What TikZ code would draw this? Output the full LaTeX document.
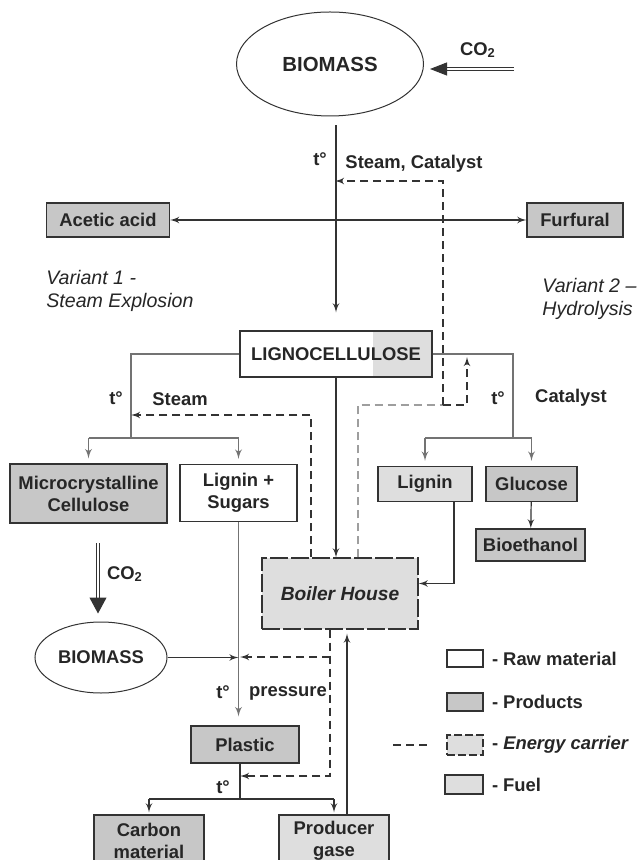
\documentclass[tikz,border=0pt]{standalone}
\usepackage{fontspec}
\setmainfont{Liberation Sans}
\usetikzlibrary{shapes, arrows, arrows.meta, positioning}
\definecolor{prodgray}{gray}{0.78}
\definecolor{fuelgray}{gray}{0.87}
\definecolor{darkline}{gray}{0.2}
\definecolor{greyline}{gray}{0.45}
\definecolor{lightdash}{gray}{0.62}
\tikzstyle{raw}     = [rectangle, draw=darkline, line width=0.6pt, align=center, fill=white, inner sep=1pt]
\tikzstyle{product} = [raw, fill=prodgray]
\tikzstyle{fuel}    = [raw, fill=fuelgray]
\tikzstyle{energy}  = [fuel, dash pattern=on 9pt off 1.5pt]
\tikzstyle{source}  = [ellipse, draw=darkline, line width=0.5pt, inner sep=0pt]
\tikzstyle{txt}     = [inner sep=1pt]
\tikzstyle{flow}    = [draw=darkline, line width=0.6pt, -latex']
\tikzstyle{branch}  = [draw=greyline, line width=0.65pt]
\tikzstyle{steam}   = [draw=darkline, line width=0.6pt, dash pattern=on 4pt off 2.5pt, -latex']
\tikzstyle{co2}     = [draw=darkline, line width=0.5pt, double distance=1.4pt]

\begin{document}
\begin{tikzpicture}[x=0.5pt, y=-0.5pt, text=black!85,
    font=\fontsize{9.2}{11}\selectfont\bfseries]
    \useasboundingbox (0,0) rectangle (640,860);

    % Pretreatment of the biomass
    \node[source, minimum width=93.5pt, minimum height=52pt, font=\fontsize{10.2}{12}\selectfont\bfseries] (biomass) at (330,64) {BIOMASS};
    \coordinate (co2in) at (514,69);
    \draw[co2, -{Triangle[length=8.5pt, width=6.5pt]}, shorten >=3pt] (co2in) -- (co2in -| biomass.east);
    \node[txt] (co2a) at (478,50) {CO\textsubscript{2}};
    \node[product, minimum width=61.5pt, minimum height=17pt] (acetic) at (108,220) {Acetic acid};
    \node[product, minimum width=48pt, minimum height=17pt] (furfural) at (575,220) {Furfural};
    \node[raw, minimum width=96pt, minimum height=23pt,
        path picture={\fill[fuelgray] ([xshift=-29.5pt]path picture bounding box.north east) rectangle (path picture bounding box.south east);}] (ligno) at (336,354) {LIGNOCELLULOSE};
    \draw[flow, shorten <=4.5pt, shorten >=9pt] (ligno.north |- biomass.south) -- (ligno.north);
    \draw[flow, latex'-latex'] (acetic) -- (furfural);
    \node[txt] (t0) at (320,159) {t°};
    \node[txt] (stcat) at (414,164) {Steam, Catalyst};

    \node[txt, font=\fontsize{9.8}{11.5}\selectfont\itshape, align=left, anchor=north west] (var1) at (44,268) {Variant 1 -\\Steam Explosion};
    \node[txt, font=\fontsize{9.8}{11.5}\selectfont\itshape, align=left, anchor=north west] (var2) at (540,276) {Variant 2 –\\Hydrolysis};

    % Variant 1
    \node[product, minimum width=78.5pt, minimum height=29.5pt] (micro) at (88.5,493.5) {Microcrystalline\\Cellulose};
    \node[raw, minimum width=58.5pt, minimum height=28.5pt] (ligsug) at (238.5,493) {Lignin +\\Sugars};
    \coordinate (lsplit) at (131,438);
    \draw[branch] (ligno.west) -| (lsplit) (micro.north |- lsplit) -- (ligsug.north |- lsplit);
    \foreach \n in {micro, ligsug}
        \draw[branch, -latex', shorten >=2.5pt] (\n.north |- lsplit) -- (\n.north);
    \node[txt] (t1) at (116,398) {t°};
    \node[txt] (steam1) at (180,399) {Steam};

    % Variant 2
    \node[fuel, minimum width=47pt, minimum height=17.5pt] (lignin) at (425,484) {Lignin};
    \node[product, minimum width=45.5pt, minimum height=17.5pt] (glucose) at (531.5,484) {Glucose};
    \node[product, minimum width=54.5pt, minimum height=16pt] (bioeth) at (530.5,545) {Bioethanol};
    \coordinate (rsplit) at (513,438);
    \draw[branch] (ligno.east) -| (rsplit) (lignin.north |- rsplit) -- (glucose.north |- rsplit);
    \foreach \n in {lignin, glucose}
        \draw[branch, -latex', shorten >=2.5pt] (\n.north |- rsplit) -- (\n.north);
    \draw[flow] (glucose) -- (bioeth);
    \node[txt] (t2) at (498,398) {t°};
    \node[txt] (cat) at (571,398) {Catalyst};

    % Boiler house and energy
    \node[energy, minimum width=78pt, minimum height=35.5pt, font=\fontsize{9.6}{11}\selectfont\bfseries\itshape] (boiler) at (340,593.5) {Boiler House};
    \draw[flow] (ligno.south) -- (ligno.south |- boiler.north);
    \draw[flow] ([xshift=14.5pt]lignin.south) |- ([yshift=5pt]boiler.east);
    \coordinate (steamin) at (131,415);
    \draw[steam] ([xshift=-14.5pt]boiler.north) |- (steamin);
    \coordinate (hot) at (443,405);
    \coordinate (catin) at (335,181);
    \coordinate (hydin) at (467,357);
    \draw[steam, draw=lightdash, -] ([xshift=9pt]boiler.north) |- (hot);
    \draw[steam] (hot) |- (catin);
    \draw[steam] (hot) -| (hydin);

    % Plastic line
    \node[source, minimum width=66pt, minimum height=35.5pt] (biomass2) at (101,657.5) {BIOMASS};
    \coordinate (co2b) at (98,543);
    \draw[co2, -{Triangle[length=8pt, width=8.5pt]}, shorten >=4pt] (co2b) -- (co2b |- biomass2.north);
    \node[txt] (co2c) at (125,574) {CO\textsubscript{2}};
    \node[product, minimum width=54pt, minimum height=18.5pt] (plastic) at (245,744.5) {Plastic};
    \draw[branch, -latex', shorten >=4.5pt] (ligsug.south) -- (ligsug.south |- plastic.north);
    \draw[flow] (biomass2) -- (ligsug.south |- biomass2);
    \coordinate (feedp) at (240,657);
    \coordinate (feedc) at (240,776);
    \draw[steam] ([xshift=-5pt]boiler.south) |- (feedc);
    \draw[steam] ([xshift=-5pt]boiler.south |- feedp) -- (feedp);
    \node[txt] (t3) at (223,692) {t°};
    \node[txt] (press) at (288,693) {pressure};

    \node[product, minimum width=55pt, minimum height=25.5pt] (carbon) at (149,840.5) {Carbon\\material};
    \node[fuel, minimum width=55pt, minimum height=25.5pt] (producer) at (334,840.5) {Producer\\gase};
    \coordinate (psplit) at (240,799);
    \draw[flow, -] (plastic.south -| psplit) -- (psplit) (carbon.north |- psplit) -- (producer.north |- psplit);
    \foreach \n in {carbon, producer}
        \draw[flow, shorten >=1pt] (\n.north |- psplit) -- (\n.north);
    \node[txt] (t4) at (223,787) {t°};
    \draw[flow, shorten >=2pt] ([xshift=6.5pt]producer.north) -- ([xshift=6.5pt]producer.north |- boiler.south);

    % Legend
    \node[raw, minimum width=18pt, minimum height=8.5pt] (legraw) at (465,658.5) {};
    \node[product, minimum width=18pt, minimum height=9pt] (legprod) at (465,702) {};
    \node[energy, dash pattern=on 4pt off 1.5pt, minimum width=18pt, minimum height=10pt] (legen) at (465,745) {};
    \node[fuel, minimum width=19pt, minimum height=9.5pt] (legfuel) at (464,784.5) {};
    \node[txt, right=3pt of legraw] (traw) {- Raw material};
    \node[txt, right=3pt of legprod] (tprod) {- Products};
    \node[txt, right=3pt of legen] (ten) {- \textit{Energy carrier}};
    \node[txt, right=3pt of legfuel] (tfuel) {- Fuel};
    \coordinate (legdash) at (393,745);
    \draw[steam, -] (legdash) -- ([xshift=-7.5pt]legen.west);
\end{tikzpicture}
\end{document}
